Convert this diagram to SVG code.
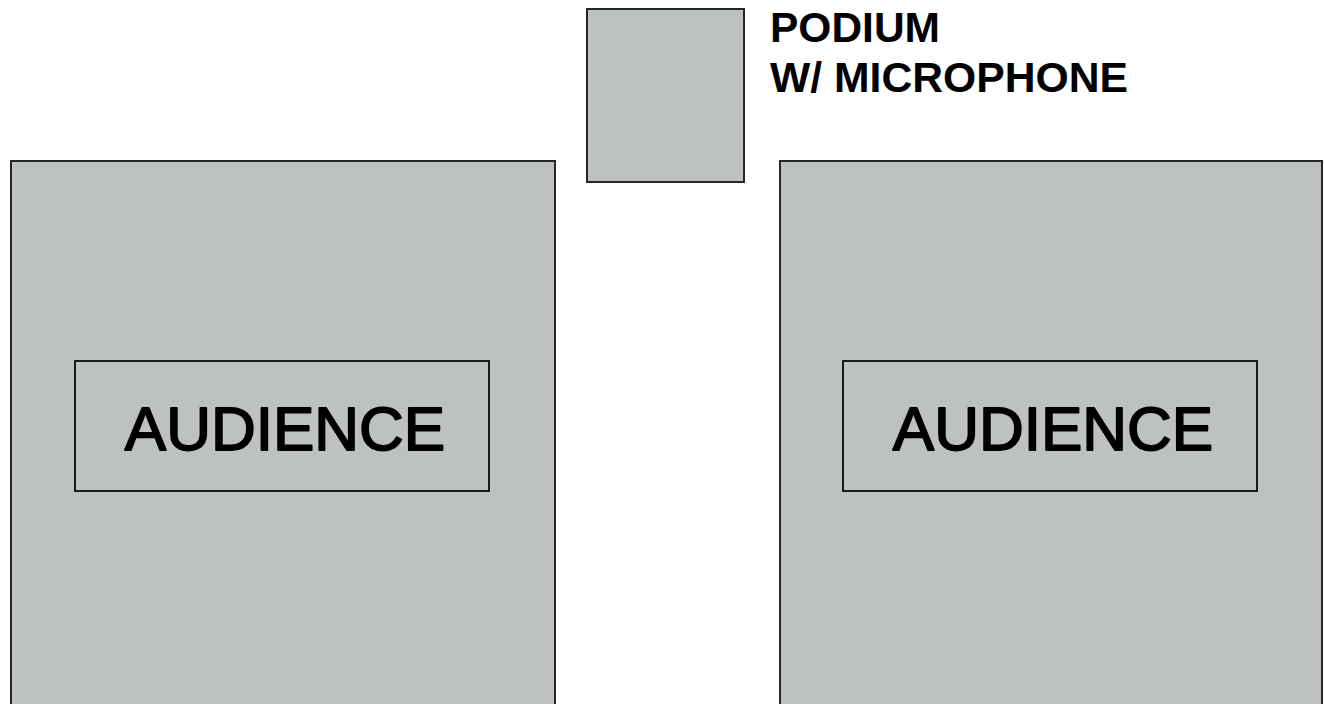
<svg xmlns="http://www.w3.org/2000/svg" width="1324" height="704" viewBox="0 0 1324 704">
<style>
.area{fill:#bdc1c1;stroke:#262626;stroke-width:2}
.inner{fill:none;stroke:#1a1a1a;stroke-width:2}
.lbl{font-family:"Liberation Sans",Arial,sans-serif;fill:#000}
.aud{font-size:62px;stroke:#000;stroke-width:1.8;stroke-linejoin:round}
.pod{font-size:42.5px;font-weight:bold}
</style>
<rect width="1324" height="704" fill="#fff"/>
<g id="audience-left">
<rect class="area" x="11" y="161" width="544" height="545"/>
<rect class="inner" x="75" y="361" width="414" height="130"/>
<text class="lbl aud" x="285" y="450" text-anchor="middle">AUDIENCE</text>
</g>
<g id="audience-right">
<rect class="area" x="780" y="161" width="542" height="545"/>
<rect class="inner" x="843" y="361" width="414" height="130"/>
<text class="lbl aud" x="1053" y="450" text-anchor="middle">AUDIENCE</text>
</g>
<g id="podium">
<rect class="area" x="587" y="9" width="157" height="173"/>
<text class="lbl pod" x="770" y="42">PODIUM</text>
<text class="lbl pod" x="770" y="92" textLength="358" lengthAdjust="spacingAndGlyphs">W/ MICROPHONE</text>
</g>
<g id="connectors"/>
</svg>
